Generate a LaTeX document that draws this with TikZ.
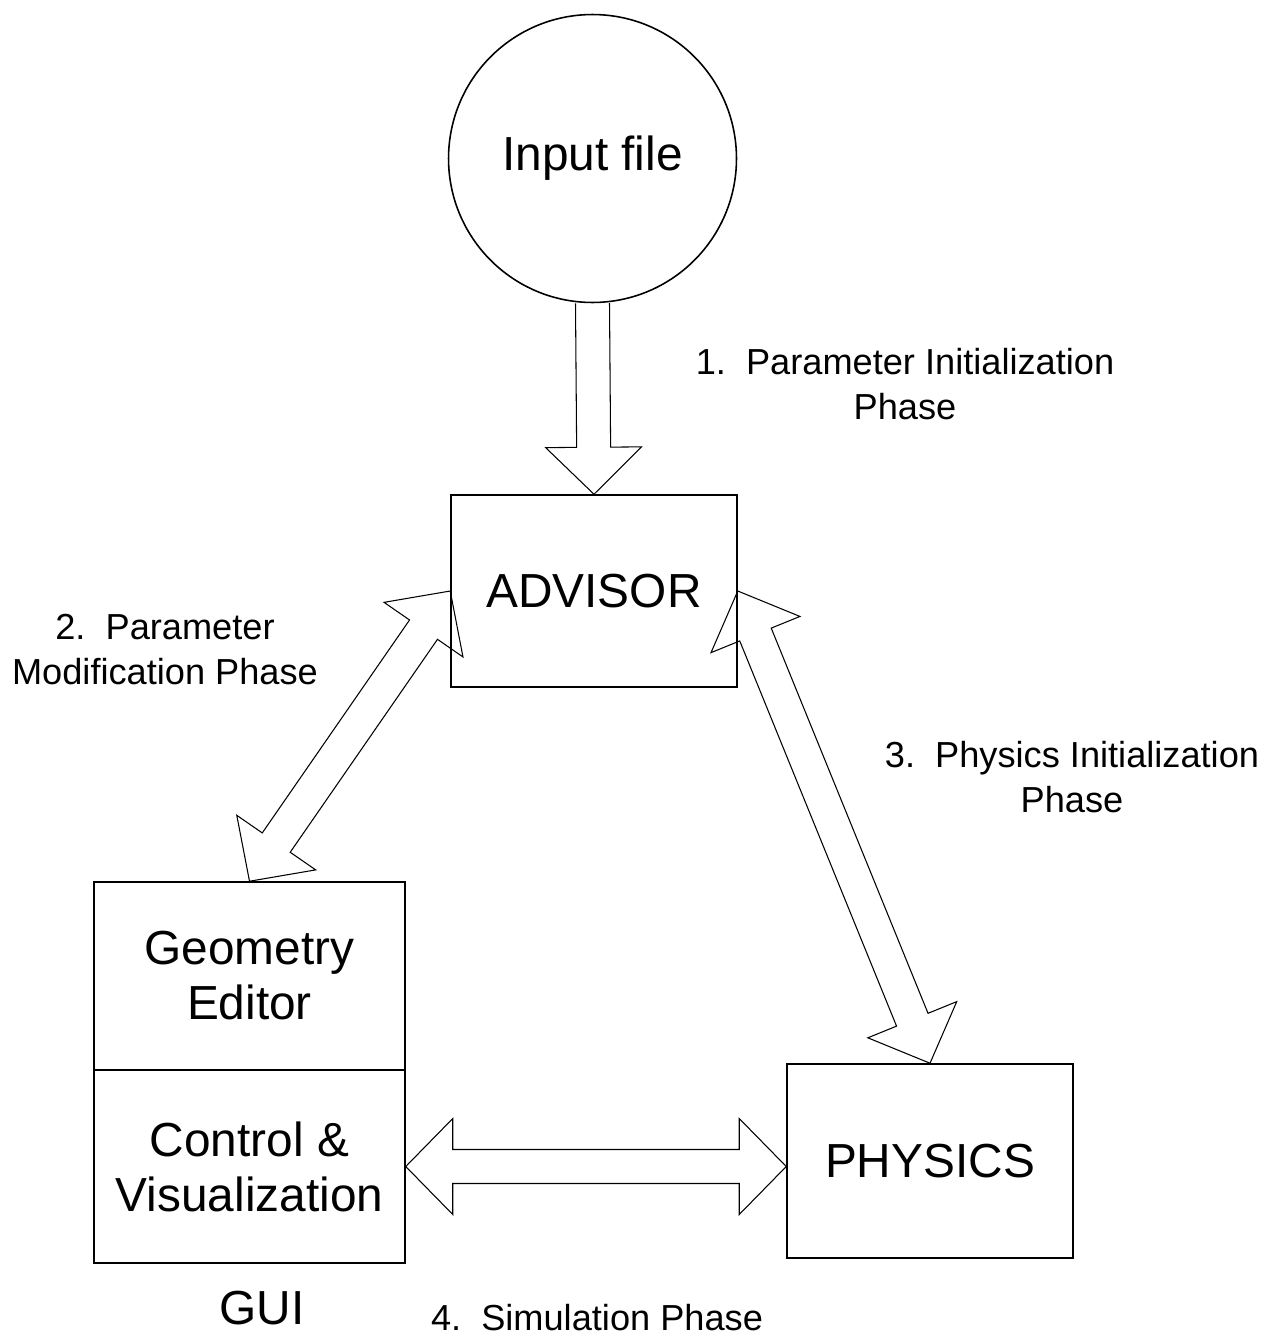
\documentclass[tikz,border=0pt]{standalone}
\usepackage{fontspec}
\setmainfont{Liberation Sans}
\usetikzlibrary{calc}

\newcommand{\boxtext}{\fontsize{27.2}{31.3}\selectfont}
\newcommand{\phasetext}{\fontsize{20.6}{25.6}\selectfont}

% hohler pfeil, spitze bei #2
\newcommand{\hollowarrow}[2]{%
\coordinate (MB) at ($(#2)!0.94cm!(#1)$);
\draw[pfeil] ($(#1)!0.34cm!90:(#2)$) -- ($(MB)!0.34cm!90:(#2)$) -- ($(MB)!0.96cm!90:(#2)$) -- (#2)
  -- ($(MB)!0.96cm!-90:(#2)$) -- ($(MB)!0.34cm!-90:(#2)$) -- ($(#1)!0.34cm!-90:(#2)$);
}
% hoher doppelpfeil
\newcommand{\hollowdouble}[2]{%
\coordinate (MA) at ($(#1)!0.94cm!(#2)$);
\coordinate (MB) at ($(#2)!0.94cm!(#1)$);
\draw[pfeil] (#1) -- ($(MA)!0.96cm!90:(#2)$) -- ($(MA)!0.34cm!90:(#2)$) -- ($(MB)!0.34cm!90:(#2)$) -- ($(MB)!0.96cm!90:(#2)$) -- (#2)
  -- ($(MB)!0.96cm!-90:(#2)$) -- ($(MB)!0.34cm!-90:(#2)$) -- ($(MA)!0.34cm!-90:(#2)$) -- ($(MA)!0.96cm!-90:(#2)$) -- cycle;
}

\begin{document}
\begin{tikzpicture}[x=0.02cm, y=-0.02cm,
  kasten/.style={draw, line width=0.9pt, inner sep=0pt, font=\boxtext, align=center},
  phase/.style={font=\phasetext, align=center, inner sep=0pt},
  pfeil/.style={black, line width=0.6pt, line join=miter}]
\useasboundingbox (0,0) rectangle (1275,1342);

% knoten
\node[kasten, circle, minimum size=5.76cm] (IN) at (592.5,158.5) {Input file};
\node[kasten, minimum width=5.72cm, minimum height=3.84cm] (ADV) at (594,591) {ADVISOR};
\node[kasten, minimum width=6.22cm, minimum height=3.76cm] (GEO) at (249.5,976) {Geometry\\Editor};
\node[kasten, minimum width=6.22cm, minimum height=3.86cm] (CTRL) at (249.5,1166.5) {Control \&\\Visualization};
\node[kasten, minimum width=5.72cm, minimum height=3.88cm] (PHY) at (930,1161) {PHYSICS};
\node[font=\boxtext, inner sep=0pt] (GUI) at (262,1308) {GUI};

% phasen
\node[phase] (P1) at (905,384) {1.~~Parameter Initialization\\Phase};
\node[phase] (P2) at (165,650) {2.~~Parameter\\Modification Phase};
\node[phase] (P3) at (1072,777) {3.~~Physics Initialization\\Phase};
\node[phase] (P4) at (597,1318) {4.~~Simulation Phase};

% pfeile
\coordinate (PHYW) at (CTRL.east -| PHY.west);
\hollowarrow{IN.south}{ADV.north}
\hollowdouble{ADV.west}{GEO.north}
\hollowdouble{ADV.east}{PHY.north}
\hollowdouble{CTRL.east}{PHYW}

\end{tikzpicture}
\end{document}
